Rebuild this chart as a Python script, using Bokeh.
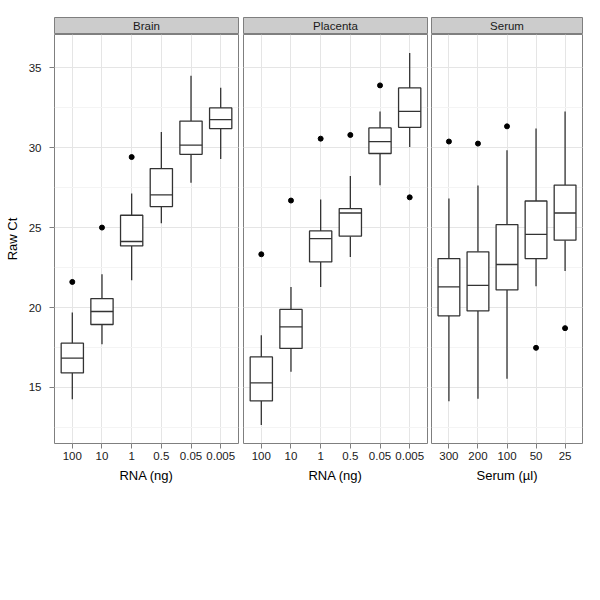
from bokeh.plotting import figure
from bokeh.layouts import row, column
from bokeh.models import (ColumnDataSource, Range1d, FactorRange, SingleIntervalTicker, Spacer)
from bokeh.transform import dodge
from bokeh.core.properties import value
from bokeh.embed import file_html
from bokeh.resources import INLINE

# ---------------- data ----------------
panel_names = ["Brain", "Placenta", "Serum"]
x_titles = ["RNA (ng)", "RNA (ng)", "Serum (µl)"]
y_title = "Raw Ct"

brain_cats = ["100", "10", "1", "0.5", "0.05", "0.005"]
brain_lo = [14.27, 17.71, 21.71, 25.27, 27.81, 29.29]
brain_q1 = [15.91, 18.94, 23.85, 26.31, 29.58, 31.19]
brain_med = [16.83, 19.75, 24.13, 27.04, 30.16, 31.75]
brain_q3 = [17.77, 20.56, 25.77, 28.69, 31.66, 32.48]
brain_hi = [19.69, 22.08, 27.13, 30.98, 34.50, 33.75]
brain_out_cats = ["100", "10", "1"]
brain_out_vals = [21.60, 25.00, 29.41]

placenta_cats = ["100", "10", "1", "0.5", "0.05", "0.005"]
placenta_lo = [12.66, 15.98, 21.29, 23.16, 27.64, 30.04]
placenta_q1 = [14.16, 17.44, 22.85, 24.46, 29.63, 31.27]
placenta_med = [15.29, 18.79, 24.31, 25.91, 30.38, 32.27]
placenta_q3 = [16.91, 19.88, 24.79, 26.19, 31.23, 33.73]
placenta_hi = [18.27, 21.29, 26.75, 28.23, 32.25, 35.91]
placenta_out_cats = ["100", "10", "1", "0.5", "0.05", "0.005"]
placenta_out_vals = [23.33, 26.69, 30.56, 30.79, 33.89, 26.89]

serum_cats = ["300", "200", "100", "50", "25"]
serum_lo = [14.14, 14.29, 15.54, 21.33, 22.29]
serum_q1 = [19.48, 19.79, 21.10, 23.06, 24.21]
serum_med = [21.29, 21.39, 22.69, 24.58, 25.91]
serum_q3 = [23.06, 23.48, 25.19, 26.66, 27.66]
serum_hi = [26.81, 27.63, 29.83, 31.19, 32.25]
serum_out_cats = ["300", "200", "100", "50", "25"]
serum_out_vals = [30.38, 30.25, 31.33, 17.48, 18.71]

panels = [
    (brain_cats, brain_lo, brain_q1, brain_med, brain_q3, brain_hi, brain_out_cats, brain_out_vals),
    (placenta_cats, placenta_lo, placenta_q1, placenta_med, placenta_q3, placenta_hi, placenta_out_cats, placenta_out_vals),
    (serum_cats, serum_lo, serum_q1, serum_med, serum_q3, serum_hi, serum_out_cats, serum_out_vals),
]

# shared y range with 5% expansion (ggplot style)
all_vals = []
for pn in panels:
    all_vals += pn[1] + pn[5] + pn[7]
ymin, ymax = min(all_vals), max(all_vals)
pad = 0.05 * (ymax - ymin)
y_rng = Range1d(ymin - pad, ymax + pad)

FONT = "Liberation Sans"
BOX_COLOR = "#333333"
BORDER = "#7f7f7f"
LW = 1.3

frame_w = [184, 184, 151]
left_b = [54, 3, 2]
right_b = [2, 2, 4]
FRAME_H = 409
BOTTOM_B = 50
STRIP_H = 17
TOP_GAP = 17

cols = []
for i, (cats, lo, q1, med, q3, hi, ocats, ovals) in enumerate(panels):
    w = left_b[i] + frame_w[i] + right_b[i]
    # strip
    s = figure(width=w, height=STRIP_H, x_range=Range1d(0, 1), y_range=Range1d(0, 1),
               output_backend="svg", toolbar_location=None,
               x_axis_location=None, y_axis_location=None,
               min_border_left=left_b[i], min_border_right=right_b[i],
               min_border_top=0, min_border_bottom=0)
    s.xgrid.visible = False
    s.ygrid.visible = False
    s.background_fill_color = "#cccccc"
    s.outline_line_color = BORDER
    s.outline_line_width = 1
    s.text(x=[0.5], y=[0.5], text=[panel_names[i]], text_align="center", text_baseline="middle",
           text_font=value(FONT), text_font_size="11.5px", text_color="#1a1a1a")

    xr = FactorRange(*cats, range_padding=0.1, range_padding_units="absolute")
    p = figure(width=w, height=FRAME_H + BOTTOM_B, x_range=xr, y_range=y_rng,
               output_backend="svg", toolbar_location=None,
               y_axis_location="left" if i == 0 else None,
               min_border_left=left_b[i], min_border_right=right_b[i],
               min_border_top=0, min_border_bottom=BOTTOM_B)
    p.outline_line_color = BORDER
    p.outline_line_width = 1
    p.background_fill_color = "white"

    # grids
    p.ygrid.ticker = SingleIntervalTicker(interval=5, num_minor_ticks=2)
    p.ygrid.grid_line_color = "#e5e5e5"
    p.ygrid.grid_line_width = 1
    p.ygrid.minor_grid_line_color = "#f4f4f4"
    p.ygrid.minor_grid_line_width = 1
    p.xgrid.grid_line_color = "#e5e5e5"
    p.xgrid.grid_line_width = 1

    # x axis
    p.xaxis.axis_label = x_titles[i]
    p.xaxis.axis_line_color = None
    p.xaxis.major_tick_out = 5
    p.xaxis.major_tick_in = 0
    p.xaxis.major_tick_line_color = BORDER
    p.xaxis.minor_tick_line_color = None
    p.xaxis.major_label_standoff = 3
    p.xaxis.major_label_text_font = FONT
    p.xaxis.major_label_text_font_size = "11.5px"
    p.xaxis.major_label_text_color = "#1a1a1a"
    p.xaxis.axis_label_standoff = 5
    p.xaxis.axis_label_text_font = FONT
    p.xaxis.axis_label_text_font_size = "13px"
    p.xaxis.axis_label_text_font_style = "normal"
    p.xaxis.axis_label_text_color = "#000000"

    if i == 0:
        p.yaxis.ticker = SingleIntervalTicker(interval=5, num_minor_ticks=2)
        p.yaxis.axis_label = y_title
        p.yaxis.axis_line_color = None
        p.yaxis.major_tick_out = 5
        p.yaxis.major_tick_in = 0
        p.yaxis.major_tick_line_color = BORDER
        p.yaxis.minor_tick_line_color = None
        p.yaxis.major_label_standoff = 8
        p.yaxis.major_label_text_font = FONT
        p.yaxis.major_label_text_font_size = "11.5px"
        p.yaxis.major_label_text_color = "#1a1a1a"
        p.yaxis.axis_label_standoff = 6
        p.yaxis.axis_label_text_font = FONT
        p.yaxis.axis_label_text_font_size = "13px"
        p.yaxis.axis_label_text_font_style = "normal"
        p.yaxis.axis_label_text_color = "#000000"

    src = ColumnDataSource(dict(cat=cats, lo=lo, q1=q1, med=med, q3=q3, hi=hi))
    # whiskers
    p.segment(x0="cat", x1="cat", y0="q3", y1="hi", source=src, line_color=BOX_COLOR, line_width=LW)
    p.segment(x0="cat", x1="cat", y0="lo", y1="q1", source=src, line_color=BOX_COLOR, line_width=LW)
    # boxes
    p.vbar(x="cat", width=0.75, bottom="q1", top="q3", source=src,
           fill_color="white", line_color=BOX_COLOR, line_width=LW)
    # medians
    p.segment(x0=dodge("cat", -0.375, range=xr), x1=dodge("cat", 0.375, range=xr),
              y0="med", y1="med", source=src, line_color=BOX_COLOR, line_width=LW)
    # outliers
    osrc = ColumnDataSource(dict(cat=ocats, val=ovals))
    p.scatter(x="cat", y="val", source=osrc, size=5, fill_color="black", line_color="black")

    cols.append(column(s, p, spacing=0))

layout = column(Spacer(width=10, height=TOP_GAP), row(*cols, spacing=0), spacing=0)
open("out.html", "w").write(file_html(layout, INLINE))
